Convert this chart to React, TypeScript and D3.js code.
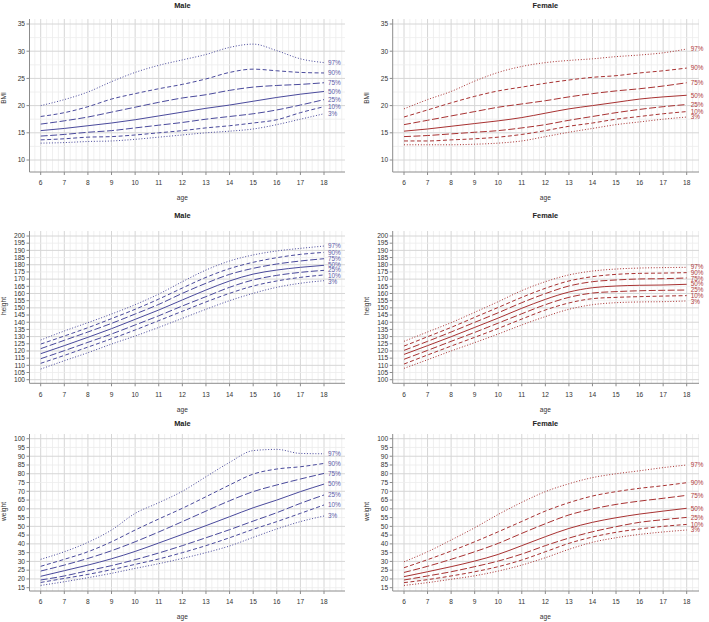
import React from "react";
import * as d3 from "d3";

const ages = [6, 7, 8, 9, 10, 11, 12, 13, 14, 15, 16, 17, 18];
const percentiles = ["97%", "90%", "75%", "50%", "25%", "10%", "3%"];

// Male BMI (97,90,75,50,25,10,3)
const maleBmi = [
  [20.0, 21.1, 22.5, 24.4, 26.1, 27.4, 28.4, 29.4, 30.7, 31.3, 30.1, 28.6, 27.9],
  [18.0, 18.7, 19.8, 21.2, 22.2, 23.1, 23.9, 24.9, 26.1, 26.7, 26.4, 26.1, 26.0],
  [16.6, 17.2, 17.9, 18.8, 19.7, 20.6, 21.4, 22.0, 22.8, 23.4, 23.7, 23.9, 24.2],
  [15.4, 15.8, 16.3, 16.8, 17.4, 18.1, 18.8, 19.5, 20.1, 20.8, 21.5, 22.1, 22.6],
  [14.4, 14.7, 15.1, 15.4, 15.9, 16.4, 16.9, 17.5, 18.0, 18.5, 19.2, 20.1, 21.1],
  [13.7, 13.9, 14.2, 14.3, 14.6, 15.0, 15.4, 15.9, 16.3, 16.8, 17.4, 18.7, 19.8],
  [13.1, 13.2, 13.4, 13.5, 13.8, 14.2, 14.6, 15.0, 15.3, 15.7, 16.5, 17.5, 18.5],
];
const femaleBmi = [
  [19.4, 21.1, 22.6, 24.5, 26.1, 27.2, 27.9, 28.3, 28.6, 29.0, 29.3, 29.7, 30.4],
  [17.9, 19.2, 20.5, 21.7, 22.7, 23.4, 24.1, 24.7, 25.2, 25.5, 26.0, 26.4, 26.9],
  [16.5, 17.3, 18.1, 18.9, 19.7, 20.3, 20.9, 21.6, 22.2, 22.7, 23.1, 23.6, 24.2],
  [15.3, 15.7, 16.2, 16.7, 17.2, 17.8, 18.6, 19.4, 20.0, 20.6, 21.2, 21.6, 21.9],
  [14.3, 14.5, 14.8, 15.1, 15.4, 15.9, 16.5, 17.3, 18.0, 18.7, 19.3, 19.8, 20.2],
  [13.5, 13.5, 13.7, 13.9, 14.2, 14.7, 15.4, 16.2, 16.8, 17.5, 18.0, 18.5, 18.9],
  [12.8, 12.8, 12.8, 12.9, 13.1, 13.5, 14.3, 15.1, 15.8, 16.5, 17.0, 17.5, 17.9],
];
const maleHeight = [
  [127.6, 133.9, 139.7, 145.7, 152.2, 159.6, 168.2, 176.3, 182.6, 186.8, 189.6, 191.4, 193.0],
  [124.8, 130.4, 136.2, 142.5, 149.0, 156.1, 163.8, 171.2, 177.3, 181.7, 184.9, 187.2, 188.6],
  [121.6, 127.4, 133.2, 139.2, 145.7, 152.4, 160.1, 167.1, 173.3, 177.5, 180.5, 182.6, 184.2],
  [118.1, 123.7, 129.5, 135.5, 142.0, 148.5, 155.5, 162.4, 168.7, 173.5, 176.3, 178.2, 179.6],
  [114.6, 120.2, 126.0, 131.8, 138.1, 144.5, 151.3, 157.8, 164.3, 169.4, 172.6, 174.7, 176.1],
  [111.4, 116.9, 122.7, 128.5, 134.6, 141.1, 147.6, 154.1, 160.1, 165.2, 168.7, 171.2, 172.9],
  [107.4, 113.2, 118.8, 124.8, 130.4, 136.4, 142.7, 149.0, 155.0, 160.1, 164.3, 167.1, 168.9],
];
const femaleHeight = [
  [126.7, 133.2, 139.7, 146.9, 154.3, 162.0, 168.2, 172.9, 175.6, 177.0, 177.7, 178.0, 178.2],
  [123.4, 129.9, 136.4, 143.4, 150.3, 157.3, 163.6, 168.7, 171.7, 173.3, 174.0, 174.2, 174.5],
  [120.4, 126.7, 133.2, 139.9, 146.6, 153.6, 159.9, 165.2, 168.2, 169.4, 170.1, 170.3, 170.8],
  [117.6, 123.7, 129.9, 136.4, 142.9, 149.7, 155.9, 161.0, 164.0, 165.2, 165.7, 165.9, 166.4],
  [114.2, 120.4, 126.7, 132.9, 139.4, 145.9, 152.2, 157.3, 160.3, 161.3, 161.9, 162.2, 162.4],
  [110.9, 117.2, 123.4, 129.5, 135.7, 142.2, 148.5, 153.4, 156.4, 157.3, 157.8, 158.2, 158.5],
  [107.9, 113.9, 120.0, 125.8, 131.8, 138.1, 143.9, 149.0, 152.2, 153.6, 154.1, 154.3, 154.8],
];
const maleWeight = [
  [31.2, 35.5, 40.9, 47.9, 57.4, 63.5, 70.0, 78.3, 86.5, 93.2, 93.9, 91.6, 91.4],
  [27.2, 31.2, 35.5, 41.2, 47.9, 54.2, 60.3, 66.9, 73.6, 79.8, 82.7, 84.0, 85.9],
  [24.5, 27.9, 31.7, 36.1, 41.2, 46.8, 52.7, 58.7, 64.6, 69.8, 73.6, 77.0, 80.2],
  [21.5, 24.7, 27.9, 31.5, 35.7, 40.5, 45.4, 50.4, 55.5, 60.6, 65.0, 69.8, 74.1],
  [19.4, 21.7, 24.7, 27.6, 31.0, 34.8, 39.0, 43.5, 48.1, 53.0, 57.8, 63.1, 67.9],
  [18.0, 20.3, 22.6, 25.3, 28.3, 31.4, 35.0, 39.0, 43.5, 48.3, 52.7, 57.4, 62.2],
  [16.3, 18.4, 20.7, 23.2, 26.0, 28.7, 31.7, 35.0, 38.8, 43.7, 48.5, 52.7, 55.9],
];
const femaleWeight = [
  [29.8, 35.5, 42.2, 49.2, 56.8, 63.7, 69.8, 74.3, 77.8, 80.0, 81.7, 83.5, 85.0],
  [26.4, 31.0, 35.9, 41.2, 46.9, 52.8, 58.7, 63.5, 67.3, 69.8, 71.7, 73.2, 74.9],
  [23.7, 27.2, 31.2, 35.5, 40.3, 46.0, 51.5, 56.5, 59.9, 62.5, 64.4, 66.0, 67.7],
  [21.3, 24.1, 27.0, 30.2, 34.0, 39.0, 44.1, 48.8, 52.3, 54.9, 57.0, 58.7, 60.3],
  [19.4, 21.7, 24.1, 27.0, 30.2, 34.2, 39.0, 43.3, 46.9, 49.8, 52.3, 53.8, 55.1],
  [17.9, 19.6, 21.7, 24.1, 27.0, 30.8, 35.5, 40.3, 43.9, 46.6, 48.5, 50.0, 51.1],
  [16.3, 17.9, 19.8, 21.8, 24.5, 27.9, 32.1, 36.9, 40.9, 43.5, 45.4, 46.8, 47.9],
];

const bmiTicks = [10, 15, 20, 25, 30, 35];
const heightTicks = [100, 105, 110, 115, 120, 125, 130, 135, 140, 145, 150, 155, 160, 165, 170, 175, 180, 185, 190, 195, 200];
const weightTicks = [15, 20, 25, 30, 35, 40, 45, 50, 55, 60, 65, 70, 75, 80, 85, 90, 95, 100];

const dashes = ["1,1.8", "4,2.5", "7,2.5", null, "7,2.5", "4,2.5", "1,1.8"];

const FONT = "'Liberation Sans', Arial, Helvetica, sans-serif";

const rows = [
  { label: "BMI", ticks: bmiTicks, dom: [10, 35], rng: [160, 24], top: 19, axisY: 172, titleY: 5, tickY: 183, ageY: 198, ylabY: 98, major: 5, minor: 2.5, lo: 7.8, hi: 36 },
  { label: "height", ticks: heightTicks, dom: [100, 200], rng: [379.7, 236], top: 231, axisY: 383.3, titleY: 215.7, tickY: 395, ageY: 409.5, ylabY: 306, major: 10, minor: 5, lo: 97.5, hi: 203 },
  { label: "weight", ticks: weightTicks, dom: [15, 100], rng: [587.7, 438.7], top: 434, axisY: 591, titleY: 423.3, tickY: 601.7, ageY: 617, ylabY: 511.5, major: 10, minor: 5, lo: 13, hi: 102.5 },
];

const cols = [
  { title: "Male", left: 29.5, right: 345, x6: 40.7, x18: 324, ylabX: 4, color: "#4a4a9c", text: "#5b5ba8" },
  { title: "Female", left: 392.7, right: 699, x6: 404, x18: 686.7, ylabX: 366.5, color: "#a83232", text: "#b04040" },
];

const panelData = [
  [maleBmi, femaleBmi],
  [maleHeight, femaleHeight],
  [maleWeight, femaleWeight],
];

function spreadLabels(ys: number[], gap: number): number[] {
  const out = ys.slice();
  for (let iter = 0; iter < 60; iter++) {
    let moved = false;
    for (let i = 0; i < out.length - 1; i++) {
      const d = out[i + 1] - out[i];
      if (d < gap) {
        const shift = (gap - d) / 2;
        out[i] -= shift;
        out[i + 1] += shift;
        moved = true;
      }
    }
    if (!moved) break;
  }
  return out;
}

function Panel({ row, col, data }: any) {
  const x = d3.scaleLinear().domain([6, 18]).range([col.x6, col.x18]);
  const y = d3.scaleLinear().domain(row.dom).range(row.rng);
  const xLo = x.invert(col.left);
  const xHi = x.invert(col.right);
  const vMinor: number[] = [];
  for (let a = Math.ceil(xLo * 4) / 4; a <= xHi; a += 0.25) vMinor.push(a);
  const hMinor: number[] = [];
  for (let v = Math.ceil(row.lo / row.minor) * row.minor; v <= row.hi; v += row.minor) hMinor.push(v);
  const yTop = row.top;
  const yBot = row.axisY;
  const line = d3
    .line<number>()
    .x((_, i) => x(ages[i]))
    .y((d) => y(d))
    .curve(d3.curveMonotoneX);
  const labelYs = spreadLabels(
    data.map((s: number[]) => y(s[s.length - 1])),
    5.7
  );
  return (
    <g>
      {vMinor.map((a, i) => {
        const isMajor = Math.abs(a - Math.round(a)) < 1e-6;
        return (
          <line key={"vm" + i} x1={x(a)} x2={x(a)} y1={yTop} y2={yBot} stroke={isMajor ? "#d6d6d6" : "#ececec"} strokeWidth={isMajor ? 1 : 0.8} />
        );
      })}
      {hMinor.map((v, i) => {
        if (y(v) < yTop || y(v) > yBot) return null;
        const isMajor = Math.abs(v / row.major - Math.round(v / row.major)) < 1e-6;
        return (
          <line key={"hm" + i} x1={col.left} x2={col.right} y1={y(v)} y2={y(v)} stroke={isMajor ? "#d6d6d6" : "#ececec"} strokeWidth={isMajor ? 1 : 0.8} />
        );
      })}
      <line x1={col.left} x2={col.left} y1={yTop} y2={yBot} stroke="#8c8c8c" strokeWidth={1} />
      <line x1={col.left} x2={col.right} y1={yBot} y2={yBot} stroke="#8c8c8c" strokeWidth={1} />
      {row.ticks.map((t: number) => (
        <g key={"yt" + t}>
          <line x1={col.left - 3} x2={col.left} y1={y(t)} y2={y(t)} stroke="#8c8c8c" />
          <text x={col.left - 4.5} y={y(t)} dy="0.35em" textAnchor="end" fontSize={6.6} fill="#333" fontFamily={FONT}>
            {t}
          </text>
        </g>
      ))}
      {ages.map((a) => (
        <g key={"xt" + a}>
          <line x1={x(a)} x2={x(a)} y1={yBot} y2={yBot + 3} stroke="#8c8c8c" />
          <text x={x(a)} y={row.tickY} dy="0.35em" textAnchor="middle" fontSize={6.6} fill="#333" fontFamily={FONT}>
            {a}
          </text>
        </g>
      ))}
      <text x={(col.x6 + col.x18) / 2} y={row.ageY} dy="0.35em" textAnchor="middle" fontSize={6.6} fill="#333" fontFamily={FONT}>
        age
      </text>
      <text
        transform={`translate(${col.ylabX},${row.ylabY}) rotate(-90)`}
        dy="0.35em"
        textAnchor="middle"
        fontSize={6.6}
        fill="#333"
        fontFamily={FONT}
      >
        {row.label}
      </text>
      <text x={(col.x6 + col.x18) / 2} y={row.titleY} dy="0.35em" textAnchor="middle" fontSize={7.4} fontWeight="bold" fill="#222" fontFamily={FONT}>
        {col.title}
      </text>
      {data.map((series: number[], i: number) => (
        <path
          key={"c" + i}
          d={line(series) || ""}
          fill="none"
          stroke={col.color}
          strokeWidth={1}
          strokeDasharray={dashes[i] || undefined}
        />
      ))}
      {data.map((series: number[], i: number) => (
        <text key={"l" + i} x={x(18) + 4} y={labelYs[i]} dy="0.35em" fontSize={6.4} fill={col.text} fontFamily={FONT}>
          {percentiles[i]}
        </text>
      ))}
    </g>
  );
}

export default function App() {
  return (
    <svg width={709} height={622} style={{ position: "absolute", left: 0, top: 0, background: "#fff" }}>
      <rect x={0} y={0} width={709} height={622} fill="#fff" />
      {rows.map((row, ri) =>
        cols.map((col, ci) => <Panel key={ri + "-" + ci} row={row} col={col} data={panelData[ri][ci]} />)
      )}
    </svg>
  );
}
